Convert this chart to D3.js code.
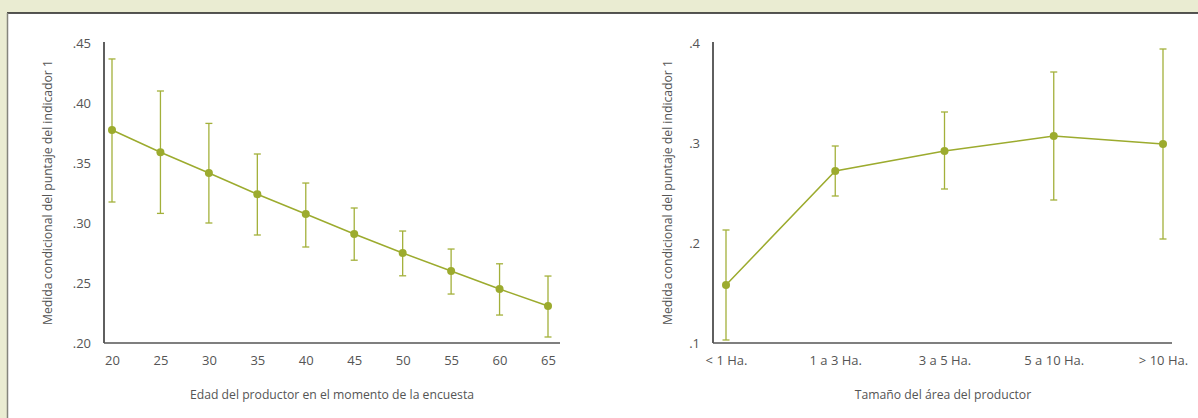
<!DOCTYPE html>
<html><head><meta charset="utf-8">
<script src="https://cdn.jsdelivr.net/npm/d3@7"></script>
<style>
html,body{margin:0;padding:0;background:#eaecd2;}
svg{display:block;}
text{font-family:"Open Sans","Noto Sans",sans-serif;fill:#555;}
</style></head>
<body>
<svg id="c" width="1198" height="418"></svg>
<script>
// Left panel: age
const ages = [20,25,30,35,40,45,50,55,60,65];
const ageMean = [0.3775,0.359,0.3417,0.324,0.3075,0.2908,0.275,0.26,0.245,0.2308];
const ageHigh = [0.4367,0.41,0.383,0.3575,0.3333,0.3125,0.2933,0.2783,0.266,0.2558];
const ageLow  = [0.3175,0.308,0.300,0.290,0.280,0.269,0.256,0.2408,0.2233,0.205];
const ageTicksY = [0.20,0.25,0.30,0.35,0.40,0.45];
// Right panel: area
const areas = ["< 1 Ha.","1 a 3 Ha.","3 a 5 Ha.","5 a 10 Ha.","> 10 Ha."];
const areaMean = [0.158,0.272,0.292,0.307,0.299];
const areaHigh = [0.213,0.297,0.331,0.371,0.394];
const areaLow  = [0.103,0.247,0.254,0.243,0.204];
const areaTicksY = [0.1,0.2,0.3,0.4];
const yTitle = "Medida condicional del puntaje del indicador 1";
const xTitleL = "Edad del productor en el momento de la encuesta";
const xTitleR = "Tamaño del área del productor";

const svg = d3.select("#c");
const col = "#9cab2e";
const colBar = "#a3b03a";
const FONT = "'Open Sans', 'Noto Sans', sans-serif";

// panel
svg.append("rect").attr("x",7).attr("y",13).attr("width",1191).attr("height",405).attr("fill","#ffffff");
svg.append("line").attr("x1",7).attr("x2",1198).attr("y1",13).attr("y2",13).attr("stroke","#1e1e1e").attr("stroke-width",1.5);
svg.append("line").attr("x1",7.5).attr("x2",7.5).attr("y1",13).attr("y2",418).attr("stroke","#85857c").attr("stroke-width",1.5);

function panel(opts){
  const g = svg.append("g");
  const {x, y, xs, mean, hi, lo, yTicks, yFmt, axL, axR, axT, axB, titleX, xTitle, xTitleY, yTitleX} = opts;
  g.append("g").attr("transform",`translate(${axL},0)`)
    .call(d3.axisLeft(y).tickValues(yTicks).tickFormat(yFmt).tickSize(0).tickPadding(13))
    .call(s=>{s.select(".domain").remove(); s.selectAll("text").attr("font-size",13).attr("fill","#555").style("font-family",FONT);});
  g.append("g").attr("transform",`translate(0,${axB})`)
    .call(d3.axisBottom(x).tickValues(xs).tickSize(0).tickPadding(13))
    .call(s=>{s.select(".domain").remove(); s.selectAll("text").attr("font-size",13).attr("fill","#555").style("font-family",FONT);});
  g.append("line").attr("x1",axL).attr("x2",axL).attr("y1",axT).attr("y2",axB).attr("stroke","#2a2a2a").attr("stroke-width",1.5);
  g.append("line").attr("x1",axL).attr("x2",axR).attr("y1",axB).attr("y2",axB).attr("stroke","#555").attr("stroke-width",1.5);
  const eb = g.append("g");
  xs.forEach((v,i)=>{
    const cx = x(v);
    eb.append("line").attr("x1",cx).attr("x2",cx).attr("y1",y(hi[i])).attr("y2",y(lo[i])).attr("stroke",colBar).attr("stroke-width",1.3);
    eb.append("line").attr("x1",cx-3.5).attr("x2",cx+3.5).attr("y1",y(hi[i])).attr("y2",y(hi[i])).attr("stroke",colBar).attr("stroke-width",1.3);
    eb.append("line").attr("x1",cx-3.5).attr("x2",cx+3.5).attr("y1",y(lo[i])).attr("y2",y(lo[i])).attr("stroke",colBar).attr("stroke-width",1.3);
  });
  g.append("path").datum(xs.map((v,i)=>[x(v),y(mean[i])]))
    .attr("d",d3.line()).attr("fill","none").attr("stroke",col).attr("stroke-width",1.5);
  g.selectAll("circle.pt").data(xs).join("circle").attr("class","pt")
    .attr("cx",d=>x(d)).attr("cy",(d,i)=>y(mean[i])).attr("r",4).attr("fill",col);
  g.append("text").attr("x",titleX).attr("y",xTitleY).attr("text-anchor","middle").attr("font-size",12.2).text(xTitle);
  g.append("text").attr("transform",`translate(${yTitleX},${(axT+axB)/2}) rotate(-90)`).attr("text-anchor","middle").attr("font-size",12.2).text(yTitle);
}

const xL = d3.scaleLinear().domain([20,65]).range([112,548]);
const yL = d3.scaleLinear().domain([0.20,0.45]).range([343,43]);
panel({x:xL, y:yL, xs:ages, mean:ageMean, hi:ageHigh, lo:ageLow, yTicks:ageTicksY,
  yFmt:d=>d3.format(".2f")(d).replace(/^0/,""), axL:104, axR:560, axT:42, axB:343,
  titleX:332, xTitle:xTitleL, xTitleY:399, yTitleX:52});

const xR = d3.scalePoint().domain(areas).range([726,1163]);
const yR = d3.scaleLinear().domain([0.1,0.4]).range([343,43]);
panel({x:xR, y:yR, xs:areas, mean:areaMean, hi:areaHigh, lo:areaLow, yTicks:areaTicksY,
  yFmt:d=>d3.format(".1f")(d).replace(/^0/,""), axL:713, axR:1172, axT:42, axB:343,
  titleX:943, xTitle:xTitleR, xTitleY:399, yTitleX:672});
</script>
</body></html>
